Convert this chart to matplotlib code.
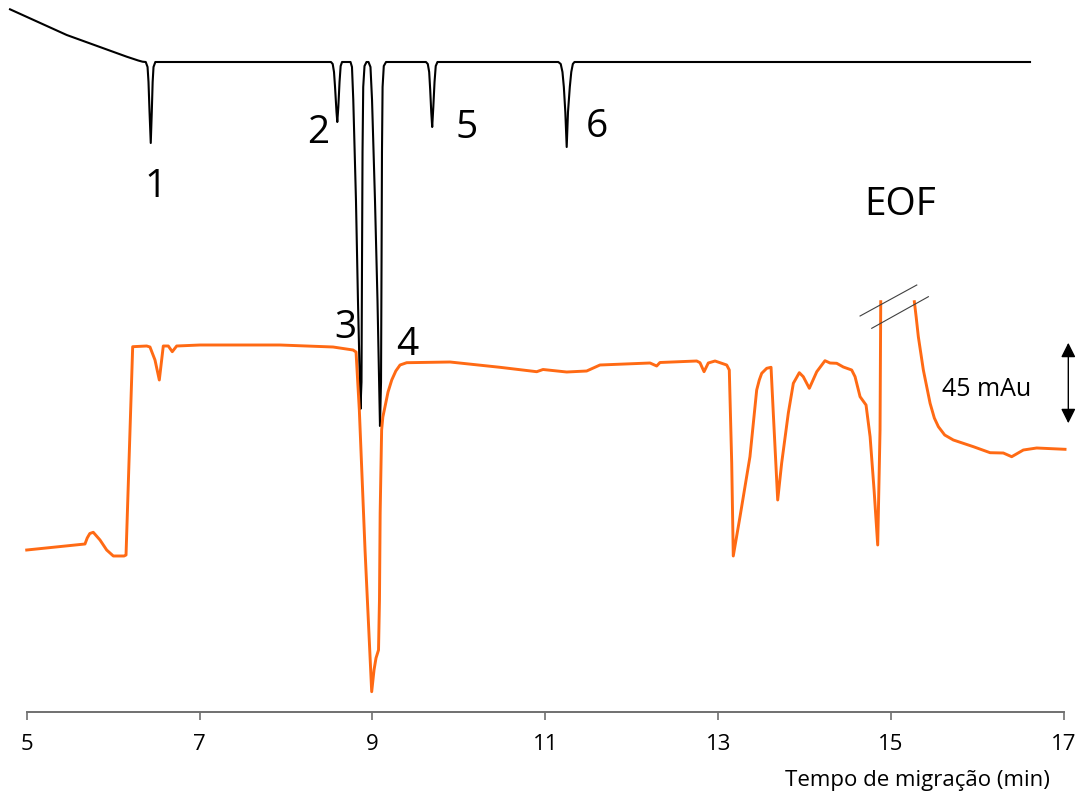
import numpy as np
import matplotlib.pyplot as plt

plt.rcParams['font.family'] = ['Open Sans', 'DejaVu Sans']

# upper trace (black), migration time in min, signal in arbitrary units
black_t = [4.807, 5.463, 6.157, 6.290, 6.340, 6.377, 6.398, 6.409, 6.421, 6.435, 6.447, 6.457, 6.467, 6.488,
           8.520, 8.540, 8.555, 8.567, 8.584, 8.593, 8.605, 8.619, 8.632, 8.648,
           8.746, 8.763, 8.778, 8.809, 8.832, 8.861, 8.873, 8.879, 8.885, 8.893, 8.908, 8.931,
           8.954, 8.977, 8.995, 9.029, 9.058, 9.087, 9.099, 9.105, 9.110, 9.117, 9.131, 9.157,
           9.619, 9.640, 9.656, 9.668, 9.680, 9.691, 9.704, 9.718, 9.732, 9.752,
           11.150, 11.178, 11.198, 11.214, 11.231, 11.247, 11.262, 11.283, 11.300, 11.318, 11.337, 16.607]
black_y = [702.7, 677, 655.3, 651.5, 650.3, 650, 645, 630, 600, 569, 600, 630, 645, 650,
           650, 648, 640, 625, 600, 590, 605, 630, 646, 650,
           650, 645, 612, 512, 412, 303, 330, 450, 560, 625, 646, 650,
           650, 645, 612, 512, 412, 286, 330, 450, 560, 625, 646, 650,
           650, 648, 640, 622, 600, 585, 605, 630, 646, 650,
           650, 648, 640, 625, 600, 565, 600, 625, 640, 648, 650, 650]

# lower trace (orange), before and after the break at the EOF
orange_t = [5.000, 5.674, 5.700, 5.730, 5.770, 5.848, 5.925, 6.002, 6.126, 6.149, 6.226, 6.388, 6.426,
            6.484, 6.534, 6.580, 6.638, 6.684, 6.735, 7.005, 7.930, 8.544, 8.775, 8.810, 8.848,
            8.914, 8.991, 9.018, 9.041, 9.052, 9.070, 9.081, 9.089, 9.106, 9.120, 9.145, 9.180,
            9.223, 9.270, 9.319, 9.396, 9.897, 10.475, 10.900, 10.973, 11.247, 11.478, 11.632,
            12.211, 12.288, 12.326, 12.751, 12.789, 12.836, 12.885, 12.963, 13.098, 13.128, 13.156,
            13.174, 13.252, 13.367, 13.445, 13.475, 13.503, 13.561, 13.611, 13.637, 13.688, 13.734,
            13.811, 13.869, 13.938, 13.984, 14.054, 14.140, 14.235, 14.293, 14.371, 14.447, 14.544,
            14.583, 14.641, 14.710, 14.757, 14.803, 14.845, 14.872, 14.880]
orange_y = [162, 168, 174, 178.5, 179.7, 172, 162, 156, 156, 157, 365.3, 366, 365,
            352, 332, 366, 366, 360.3, 366, 367, 367, 365, 362, 360, 302,
            162, 20.3, 42, 54, 57, 62, 112, 199, 282, 295, 305.3, 320,
            332, 341, 347, 349.3, 350, 344.7, 340.3, 342.5, 340, 341, 347,
            349, 346, 349.5, 351, 349.3, 340.3, 349, 351, 347, 342, 249,
            156, 195.3, 255.3, 322, 332, 338.7, 343.7, 344.7, 299, 212, 249,
            299, 328.7, 339.3, 335.3, 323.7, 340.3, 351.3, 349, 348.7, 345, 342,
            335.3, 315.3, 307, 275.3, 222, 167, 282, 410.3]
orange2_t = [15.269, 15.290, 15.315, 15.373, 15.451, 15.500, 15.547, 15.620, 15.720, 15.952,
             16.145, 16.298, 16.395, 16.530, 16.684, 17.012]
orange2_y = [410.3, 395, 375.3, 342, 308.7, 294, 285.3, 277, 272, 265.3,
             259.3, 259, 255.3, 262, 264, 262.7]

peak_labels = ['1', '2', '3', '4', '5', '6', 'EOF']
label_t = [6.496, 8.370, 8.682, 9.405, 10.094, 11.592, 15.103]
label_y = [515, 569, 374, 357, 574, 575, 497]

fig = plt.figure(figsize=(10.83, 7.98), dpi=100)
ax = fig.add_axes([0, 86 / 798, 1, 712 / 798])

ax.plot(black_t, black_y, color='black', lw=1.5, solid_joinstyle='round')
ax.plot(orange_t, orange_y, color='#ff6a14', lw=2.1, solid_joinstyle='round')
ax.plot(orange2_t, orange2_y, color='#ff6a14', lw=2.1, solid_joinstyle='round')

# break marks on the EOF peak
ax.plot([14.641, 15.297], [396, 427], color='#404040', lw=0.8)
ax.plot([14.776, 15.431], [383.7, 415.3], color='#404040', lw=0.8)

for lab, t, y in zip(peak_labels, label_t, label_y):
    ax.text(t, y, lab, fontsize=28, ha='center', va='baseline')

# scale bar
ax.annotate('', xy=(17.05, 372), xytext=(17.05, 286),
            arrowprops=dict(arrowstyle='<|-|>', color='black', lw=1, mutation_scale=22),
            annotation_clip=False)
ax.text(16.106, 316, '45 mAu', fontsize=18, ha='center', va='baseline')

ax.set_xlim(4.691, 17.220)
ax.set_ylim(0, 712)
for s in ['top', 'left', 'right']:
    ax.spines[s].set_visible(False)
ax.spines['bottom'].set_bounds(5, 17)
ax.spines['bottom'].set_color('#707070')
ax.spines['bottom'].set_linewidth(1.4)
ax.set_xticks(np.arange(5, 18, 2))
ax.tick_params(axis='x', direction='out', length=6, width=1.2, color='#707070',
               labelsize=16, pad=10)
ax.set_yticks([])
ax.patch.set_alpha(0)

ax.text(16.835, -74, 'Tempo de migração (min)', fontsize=16, ha='right', va='baseline',
        clip_on=False)

fig.savefig('out.png', dpi=100)
